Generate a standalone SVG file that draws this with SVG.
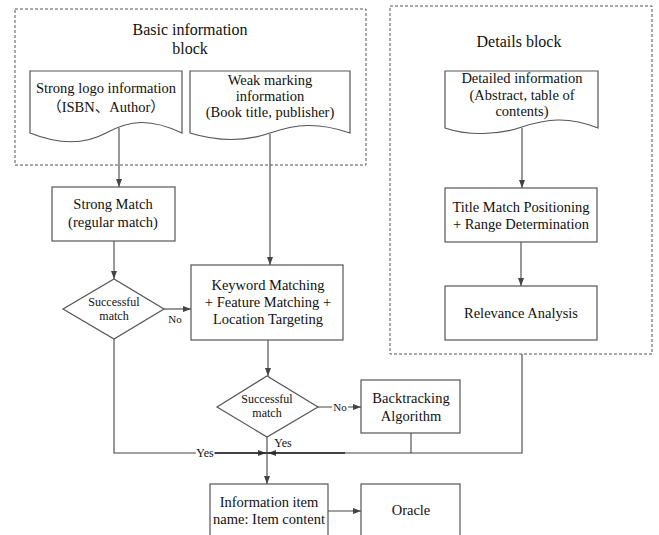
<svg xmlns="http://www.w3.org/2000/svg" width="659" height="535" viewBox="0 0 659 535" font-family="'Liberation Serif', 'Noto Sans CJK SC', serif">
<style>
text{font-family:'Liberation Serif','Noto Sans CJK SC',serif;fill:#111;text-anchor:middle}
.t16{font-size:16px}
.t14{font-size:14.5px}
.t12{font-size:12px}
.t11{font-size:11px}
.shape{fill:#fff;stroke:#555;stroke-width:1.2}
.dash{fill:none;stroke:#555;stroke-width:1;stroke-dasharray:3,2}
.conn{fill:none;stroke:#444;stroke-width:1.1}
.dark{fill:none;stroke:#222;stroke-width:1.6}
.lbl{fill:#fff;stroke:none}
</style>
<defs>
<marker id="arr" viewBox="0 0 8 6" refX="8" refY="3" markerWidth="8" markerHeight="6" markerUnits="userSpaceOnUse" orient="auto">
<path d="M0,0 L8,3 L0,6 Z" fill="#444"/>
</marker>
</defs>
<rect width="659" height="535" fill="#fff"/>

<g id="basic-block">
<rect class="dash" x="15" y="9" width="351" height="156"/>
<text class="t16" x="190" y="35">Basic information</text>
<text class="t16" x="190" y="54">block</text>
</g>
<g id="details-block">
<rect class="dash" x="390" y="6" width="262" height="348"/>
<text class="t16" x="519" y="47">Details block</text>
</g>

<g id="connectors">
<path class="conn" d="M119,128 V187" marker-end="url(#arr)"/>
<path class="conn" d="M270,134 V265" marker-end="url(#arr)"/>
<path class="conn" d="M114,241 V279" marker-end="url(#arr)"/>
<path class="conn" d="M164,309 H191" marker-end="url(#arr)"/>
<path class="conn" d="M268,340 V376" marker-end="url(#arr)"/>
<path class="conn" d="M318,407 H361" marker-end="url(#arr)"/>
<path class="conn" d="M267,437 V484" marker-end="url(#arr)"/>
<path class="conn" d="M114,339 V453 H266" marker-end="url(#arr)"/>
<path class="conn" d="M522,354 V453 H268" marker-end="url(#arr)"/>
<path class="dark" d="M215,453 H345"/>
<path class="conn" d="M411,433 V453"/>
<path class="conn" d="M522,128 V188" marker-end="url(#arr)"/>
<path class="conn" d="M521,242 V286" marker-end="url(#arr)"/>
<path class="conn" d="M328,511 H361" marker-end="url(#arr)"/>
<text class="t11" x="175" y="323">No</text>
<rect class="lbl" x="332" y="400" width="16" height="13"/>
<text class="t11" x="340" y="411">No</text>
<text class="t12" x="283" y="447">Yes</text>
<rect class="lbl" x="196" y="447" width="18" height="12"/>
<text class="t12" x="205" y="457">Yes</text>
</g>

<g id="strong-logo">
<path class="shape" d="M30,71 H182 V133 C150,118 130,120 106,133 C82,146 55,143 30,133 Z"/>
<text class="t14" x="106" y="93">Strong logo information</text>
<text class="t14" x="106" y="112">（ISBN、Author）</text>
</g>
<g id="weak-marking">
<path class="shape" d="M190,71 H350 V133 C318,122 296,124 270,133 C244,142 216,141 190,133 Z"/>
<text class="t14" x="270" y="85">Weak marking</text>
<text class="t14" x="270" y="101">information</text>
<text class="t14" x="270" y="117">(Book title, publisher)</text>
</g>
<g id="detailed-info">
<path class="shape" d="M445,71 H598 V128 C568,116 546,119 522,127 C498,135 468,136 445,128 Z"/>
<text class="t14" x="522" y="83">Detailed information</text>
<text class="t14" x="522" y="100">(Abstract, table of</text>
<text class="t14" x="522" y="116">contents)</text>
</g>
<g id="strong-match">
<rect class="shape" x="52" y="187" width="123" height="54"/>
<text class="t14" x="113" y="209">Strong Match</text>
<text class="t14" x="113" y="227">(regular match)</text>
</g>
<g id="decision-1">
<polygon class="shape" points="63,309 114,279 164,309 114,339"/>
<text class="t12" x="114" y="306">Successful</text>
<text class="t12" x="114" y="320">match</text>
</g>
<g id="keyword-matching">
<rect class="shape" x="191" y="265" width="152" height="75"/>
<text class="t14" x="268" y="290">Keyword Matching</text>
<text class="t14" x="268" y="307">+ Feature Matching +</text>
<text class="t14" x="268" y="324">Location Targeting</text>
</g>
<g id="decision-2">
<polygon class="shape" points="217,407 267,376 318,407 267,437"/>
<text class="t12" x="267" y="403">Successful</text>
<text class="t12" x="267" y="417">match</text>
</g>
<g id="backtracking">
<rect class="shape" x="361" y="380" width="99" height="53"/>
<text class="t14" x="411" y="403">Backtracking</text>
<text class="t14" x="411" y="421">Algorithm</text>
</g>
<g id="title-match">
<rect class="shape" x="445" y="188" width="152" height="54"/>
<text class="t14" x="521" y="212">Title Match Positioning</text>
<text class="t14" x="521" y="229">+ Range Determination</text>
</g>
<g id="relevance">
<rect class="shape" x="445" y="286" width="152" height="54"/>
<text class="t14" x="521" y="318">Relevance Analysis</text>
</g>
<g id="information-item">
<rect class="shape" x="210" y="484" width="118" height="60"/>
<text class="t14" x="269" y="507">Information item</text>
<text class="t14" x="269" y="524">name: Item content</text>
</g>
<g id="oracle">
<rect class="shape" x="361" y="484" width="99" height="60"/>
<text class="t14" x="411" y="515">Oracle</text>
</g>
</svg>
